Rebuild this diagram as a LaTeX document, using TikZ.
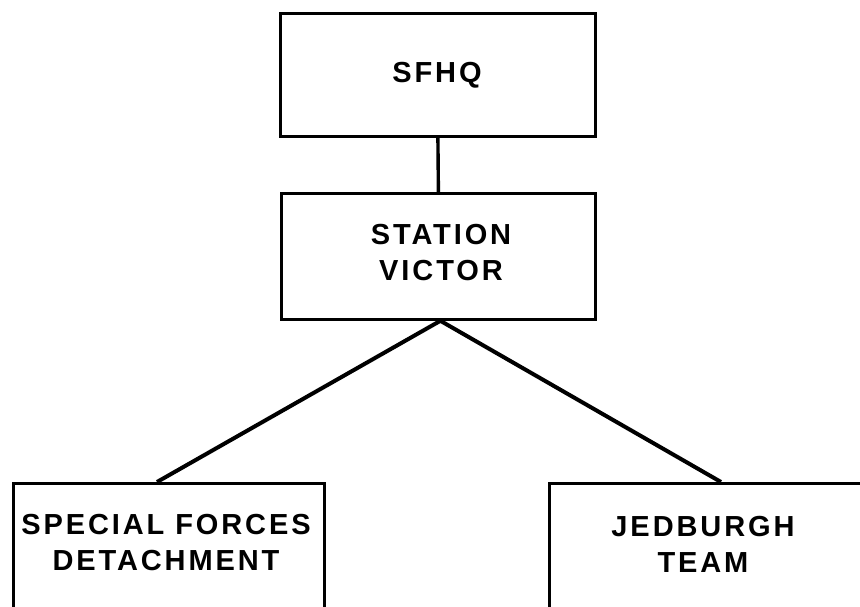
\documentclass[tikz,border=0pt]{standalone}
\usepackage{fontspec}
\newfontfamily\labelfont{Liberation Sans}[LetterSpace=10]
\begin{document}
\begin{tikzpicture}[x=1pt,y=-1pt,
  box/.style={draw=black, line width=2.8pt, inner sep=0pt, anchor=north west},
  lbl/.style={font=\labelfont\bfseries\fontsize{29}{36}\selectfont, align=center, inner sep=0pt, text=black},
  vline/.style={draw=black, line width=3.4pt},
  dline/.style={draw=black, line width=4pt}]
\useasboundingbox (0,0) rectangle (860,607);
\fill[white] (0,0) rectangle (860,607);
\clip (0,0) rectangle (860,607);
% boxes
\node[box, minimum width=315pt, minimum height=123pt] (hq) at (279,12) {};
\node[box, minimum width=314pt, minimum height=126pt] (sv) at (280,192) {};
\node[box, minimum width=311pt, minimum height=135pt] (sf) at (12,482) {};
\node[box, minimum width=330pt, minimum height=135pt] (jt) at (548,482) {};
% labels
\node[lbl, anchor=base] (hqt) at (437,83) {SFHQ};
\node[lbl] (svt) at (441,253) {STATION\\VICTOR};
\node[lbl] (sft) at (166,543) {SPECIAL FORCES\\DETACHMENT};
\node[lbl] (jtt) at (703,544) {JEDBURGH\\TEAM};
% connectors
\draw[vline] (hq.south) -- (sv.north);
\draw[dline] ([xshift=2pt]sv.south) -- ([xshift=145pt]sf.north west);
\draw[dline] ([xshift=2pt]sv.south) -- ([xshift=173pt]jt.north west);
\end{tikzpicture}
\end{document}
